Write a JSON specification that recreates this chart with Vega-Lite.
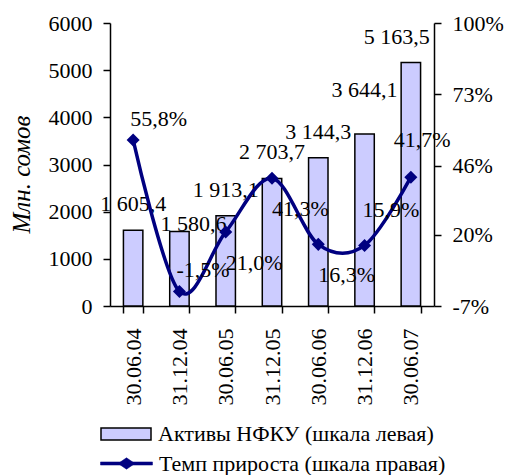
{
  "$schema": "https://vega.github.io/schema/vega-lite/v6.json",
  "autosize": {"type": "none"},
  "padding": {"left": 110, "top": 23, "right": 72, "bottom": 169},
  "width": 324,
  "height": 283,
  "background": "white",
  "config": {
    "locale": {"number": {"decimal": ",", "thousands": " ", "grouping": [3], "currency": ["", ""], "minus": "-"}},
    "view": {"stroke": null},
    "font": "Liberation Serif",
    "axis": {"domainColor": "black", "domainWidth": 1.5, "tickColor": "black", "tickWidth": 1.5, "tickSize": 7, "labelFont": "Liberation Serif", "labelFontSize": 22, "labelColor": "black", "grid": false, "titleFont": "Liberation Serif", "titleColor": "black"},
    "legend": {"labelFont": "Liberation Serif", "labelFontSize": 22, "labelColor": "black", "title": null, "labelLimit": 500}
  },
  "data": {"values": [
    {"date": "30.06.04", "assets": 1605.4, "growth": 0.558},
    {"date": "31.12.04", "assets": 1580.6, "growth": -0.015},
    {"date": "30.06.05", "assets": 1913.1, "growth": 0.21},
    {"date": "31.12.05", "assets": 2703.7, "growth": 0.413},
    {"date": "30.06.06", "assets": 3144.3, "growth": 0.163},
    {"date": "31.12.06", "assets": 3644.1, "growth": 0.159},
    {"date": "30.06.07", "assets": 5163.5, "growth": 0.417}
  ]},
  "encoding": {
    "x": {"field": "date", "type": "ordinal", "sort": null,
      "scale": {"paddingInner": 0.58, "paddingOuter": 0.29},
      "axis": {"title": null, "labelAngle": 270, "labelAlign": "right", "labelBaseline": "middle", "labelPadding": 15, "tickBand": "extent", "domainWidth": 1.5}
    }
  },
  "layer": [
    {
      "encoding": {
        "y": {"field": "assets", "type": "quantitative",
          "scale": {"domain": [0, 6000], "nice": false},
          "axis": {"values": [0, 1000, 2000, 3000, 4000, 5000, 6000], "format": "d", "labelPadding": 11,
            "title": "Млн. сомов", "titleFontStyle": "italic", "titleFontWeight": "normal", "titleFontSize": 25, "titlePadding": 14, "titleY": 151}
        }
      },
      "layer": [
        {
          "mark": {"type": "bar", "stroke": "black", "strokeWidth": 1.5},
          "encoding": {
            "fill": {"datum": "Активы НФКУ (шкала левая)", "type": "nominal",
              "scale": {"range": ["#CCCCFF"]},
              "legend": {"orient": "none", "legendX": -10, "legendY": 385,
                "symbolType": "M-1,-0.24L1,-0.24L1,0.24L-1,0.24Z", "symbolSize": 2500,
                "symbolStrokeColor": "black", "symbolStrokeWidth": 1.5, "symbolFillColor": "#CCCCFF", "labelOffset": 6}
            }
          }
        },
        {
          "transform": [{"filter": "indexof(['31.12.04','31.12.06','30.06.07'], datum.date) < 0"}],
          "mark": {"type": "text", "fontSize": 22, "font": "Liberation Serif", "color": "black", "baseline": "alphabetic", "dy": -19},
          "encoding": {"text": {"field": "assets", "type": "quantitative", "format": ",.1f"}}
        },
        {
          "transform": [{"filter": "datum.date == '31.12.04'"}],
          "mark": {"type": "text", "fontSize": 22, "font": "Liberation Serif", "color": "black", "baseline": "alphabetic", "dx": 14, "dy": 0},
          "encoding": {"text": {"field": "assets", "type": "quantitative", "format": ",.1f"}}
        },
        {
          "transform": [{"filter": "datum.date == '31.12.06'"}],
          "mark": {"type": "text", "fontSize": 22, "font": "Liberation Serif", "color": "black", "baseline": "alphabetic", "dy": -37},
          "encoding": {"text": {"field": "assets", "type": "quantitative", "format": ",.1f"}}
        },
        {
          "transform": [{"filter": "datum.date == '30.06.07'"}],
          "mark": {"type": "text", "fontSize": 22, "font": "Liberation Serif", "color": "black", "baseline": "alphabetic", "dx": -14, "dy": -18},
          "encoding": {"text": {"field": "assets", "type": "quantitative", "format": ",.1f"}}
        }
      ]
    },
    {
      "encoding": {
        "y": {"field": "growth", "type": "quantitative",
          "scale": {"domain": [-0.07, 1.0], "nice": false, "zero": false},
          "axis": {"orient": "right", "values": [-0.07, 0.2, 0.46, 0.73, 1.0], "format": ".0%", "labelPadding": 11, "title": null}
        }
      },
      "layer": [
        {
          "mark": {"type": "line", "interpolate": "cardinal", "strokeWidth": 3.5},
          "encoding": {
            "stroke": {"datum": "Темп прироста (шкала правая)", "type": "nominal",
              "scale": {"range": ["#000080"]},
              "legend": {"orient": "none", "legendX": -10, "legendY": 414,
                "symbolType": "M-1,-0.06L1,-0.06L1,0.06L-1,0.06Z M0,-0.22L0.32,0L0,0.22L-0.32,0Z", "symbolSize": 2700,
                "symbolStrokeColor": "#000080", "symbolStrokeWidth": 0.5, "symbolFillColor": "#000080", "labelOffset": 6,
                "encode": {"symbols": {"update": {"fill": {"value": "#000080"}, "stroke": {"value": "#000080"}, "strokeWidth": {"value": 0.5}}}}}
            }
          }
        },
        {
          "mark": {"type": "point", "shape": "diamond", "filled": true, "size": 170, "color": "#000080", "opacity": 1}
        },
        {
          "transform": [{"filter": "datum.date == '30.06.04' || datum.date == '31.12.04'"}],
          "mark": {"type": "text", "fontSize": 22, "font": "Liberation Serif", "color": "black", "align": "left", "baseline": "alphabetic", "dx": -3, "dy": -14},
          "encoding": {"text": {"field": "growth", "type": "quantitative", "format": ".1%"}}
        },
        {
          "transform": [{"filter": "datum.date == '31.12.06'"}],
          "mark": {"type": "text", "fontSize": 22, "font": "Liberation Serif", "color": "black", "align": "left", "baseline": "alphabetic", "dx": -2, "dy": -28},
          "encoding": {"text": {"field": "growth", "type": "quantitative", "format": ".1%"}}
        },
        {
          "transform": [{"filter": "datum.date == '30.06.07'"}],
          "mark": {"type": "text", "fontSize": 22, "font": "Liberation Serif", "color": "black", "align": "left", "baseline": "alphabetic", "dx": -17, "dy": -30},
          "encoding": {"text": {"field": "growth", "type": "quantitative", "format": ".1%"}}
        },
        {
          "transform": [{"filter": "indexof(['30.06.05','31.12.05','30.06.06'], datum.date) >= 0"}],
          "mark": {"type": "text", "fontSize": 22, "font": "Liberation Serif", "color": "black", "align": "left", "baseline": "alphabetic", "dx": 0, "dy": 38},
          "encoding": {"text": {"field": "growth", "type": "quantitative", "format": ".1%"}}
        }
      ]
    }
  ],
  "resolve": {"scale": {"y": "independent"}}
}
